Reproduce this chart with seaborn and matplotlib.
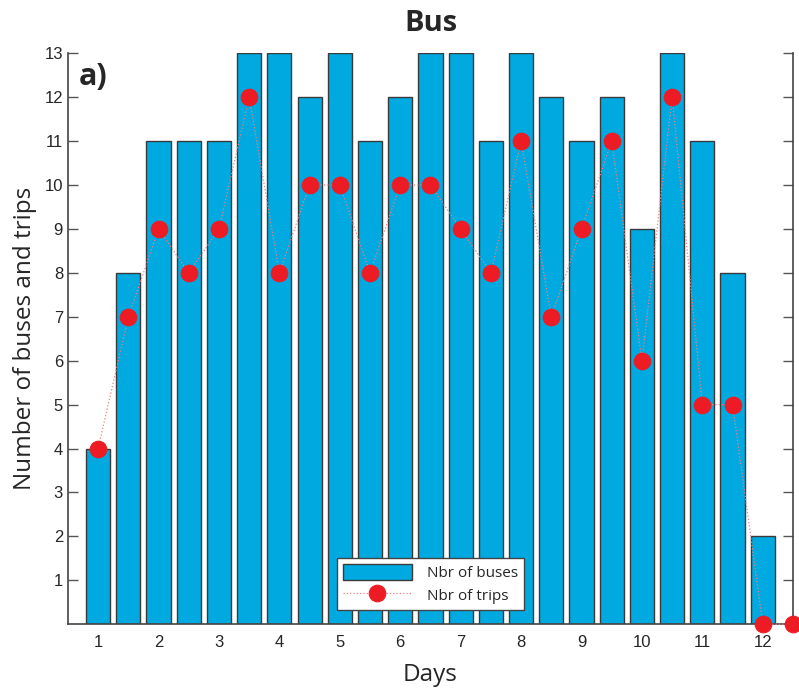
import numpy as np
import pandas as pd
import matplotlib
matplotlib.use("Agg")
import matplotlib.pyplot as plt
import seaborn as sns

# -----------------------------
# Data
# -----------------------------
bus_days = [1, 1.5, 2, 2.5, 3, 3.5, 4, 4.5, 5, 5.5, 6, 6.5,
            7, 7.5, 8, 8.5, 9, 9.5, 10, 10.5, 11, 11.5, 12]
nbr_buses = [4, 8, 11, 11, 11, 13, 13, 12, 13, 11, 12, 13,
             13, 11, 13, 12, 11, 12, 9, 13, 11, 8, 2]

trip_days = [1, 1.5, 2, 2.5, 3, 3.5, 4, 4.5, 5, 5.5, 6, 6.5,
             7, 7.5, 8, 8.5, 9, 9.5, 10, 10.5, 11, 11.5, 12, 12.5]
nbr_trips = [4, 7, 9, 8, 9, 12, 8, 10, 10, 8, 10, 10,
             9, 8, 11, 7, 9, 11, 6, 12, 5, 5, 0, 0]

day_ticks = list(range(1, 13))
count_ticks = list(range(1, 14))

bus_df = pd.DataFrame({"Days": bus_days, "Buses": nbr_buses})
trip_df = pd.DataFrame({"Days": trip_days, "Trips": nbr_trips})

# -----------------------------
# Plot
# -----------------------------
sns.set_style("white")
plt.rcParams["font.family"] = ["Liberation Sans", "DejaVu Sans"]
label_font = ["Open Sans", "DejaVu Sans"]

fig = plt.figure(figsize=(7.99, 6.92), dpi=100)
ax = fig.add_axes([0.085, 0.098, 0.9075, 0.825])

sns.barplot(data=bus_df, x="Days", y="Buses", native_scale=True, width=0.8,
            color="#00A9E0", saturation=1, edgecolor="#3a3a3a", linewidth=1,
            label="Nbr of buses", ax=ax)

sns.lineplot(data=trip_df, x="Days", y="Trips", color="#ED1C24",
             linestyle=":", linewidth=0.9, marker="o", markersize=12,
             markeredgecolor="#ED1C24", label="Nbr of trips",
             clip_on=False, zorder=5, ax=ax)
ax.lines[-1].set_color("#F08080")
ax.lines[-1].set_markerfacecolor("#ED1C24")
ax.lines[-1].set_markeredgecolor("#ED1C24")

ax.set_xlim(0.5, 12.5)
ax.set_ylim(0, 13)
ax.set_xticks(day_ticks)
ax.set_xticklabels([str(d) for d in day_ticks])
ax.set_yticks(count_ticks)
ax.tick_params(axis="x", length=0, labelsize=12, pad=8)
ax.tick_params(axis="y", direction="in", length=7, width=1, color="#555555",
               left=True, right=True, labelsize=12)

for side in ["left", "right", "bottom"]:
    ax.spines[side].set_color("#444444")
    ax.spines[side].set_linewidth(1.2)
ax.spines["top"].set_visible(False)

ax.set_xlabel("Days", fontsize=17.5, family=label_font, labelpad=9)
ax.set_ylabel("Number of buses and trips", fontsize=17.5, family=label_font, labelpad=5)
ax.set_title("Bus", fontsize=21, fontweight="bold", family=label_font, pad=16)
ax.text(0.015, 0.985, "a)", transform=ax.transAxes, fontsize=22,
        fontweight="bold", family=label_font, va="top", ha="left")

handles, labels = ax.get_legend_handles_labels()
order = [labels.index("Nbr of buses"), labels.index("Nbr of trips")]
leg = ax.legend([handles[i] for i in order], [labels[i] for i in order],
                loc="lower center", bbox_to_anchor=(0.5, 0.012), fontsize=11,
                frameon=True, fancybox=False, edgecolor="#444444", framealpha=1,
                handlelength=4.5, handleheight=1.2, borderpad=0.4,
                labelspacing=0.35, handletextpad=1.0)
leg.get_frame().set_linewidth(1)
for t in leg.get_texts():
    t.set_family(label_font)

fig.savefig("out.png", dpi=100)
